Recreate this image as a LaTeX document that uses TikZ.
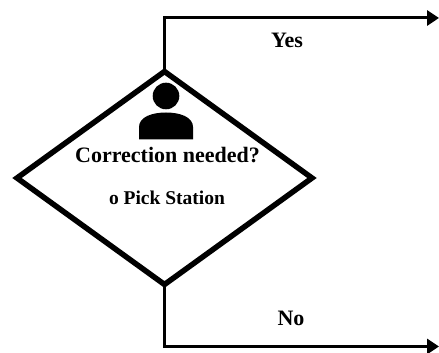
\documentclass[tikz,border=0pt]{standalone}
\usepackage{fontspec}
\setmainfont{Liberation Serif}
\usetikzlibrary{positioning,calc}
\usetikzlibrary{arrows.meta,shapes.geometric}
\tikzset{
  decision/.style={diamond,draw=black,fill=white,line width=5.5pt,inner sep=0pt,outer sep=0pt,minimum width=295pt,minimum height=213pt},
  flow/.style={draw=black,line width=3pt,-{Triangle[length=12pt,width=15pt]}},
  lab/.style={inner sep=0pt,font=\bfseries\fontsize{22}{24}\selectfont},
  sublab/.style={inner sep=0pt,font=\bfseries\fontsize{19.5}{22}\selectfont},
  head/.style={circle,fill=black,inner sep=0pt,minimum size=26.6pt},
}
\begin{document}
\begin{tikzpicture}[x=1pt,y=1pt]
\useasboundingbox (0,0) rectangle (439,353);
\node[decision] (check) at (164.5,175) {};
\coordinate (yesend) at (439,335);
\coordinate (noend) at (439,6.5);
\draw[flow] (check.north) |- (yesend);
\draw[flow] (check.south) |- (noend);
\node[head] (person) at (166,257) {};
\fill[black] (139,213.7) -- (139,226) .. controls (139,236) and (152,240.5) .. (166,240.5) .. controls (180,240.5) and (193,236) .. (193,226) -- (193,213.7) -- cycle;
\node[lab] (question) at (167.5,197.5) {Correction needed?};
\node[sublab] (station) at (167,155) {o Pick Station};
\node[lab] (yes) at (287,313) {Yes};
\node[lab] (no) at (291,35) {No};
\end{tikzpicture}
\end{document}
